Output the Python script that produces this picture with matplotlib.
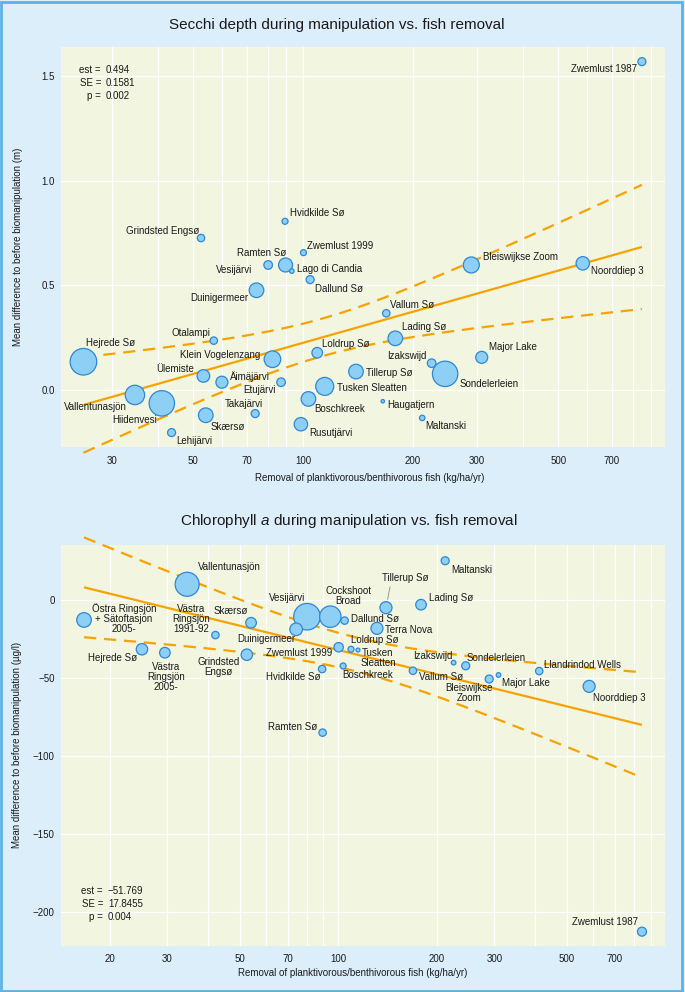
import numpy as np
import matplotlib
matplotlib.use('Agg')
import matplotlib.pyplot as plt
from matplotlib.ticker import FixedLocator, FuncFormatter
from matplotlib.patches import Rectangle

plt.rcParams['font.family'] = ['Liberation Sans', 'DejaVu Sans']
plt.rcParams['mathtext.fontset'] = 'custom'
plt.rcParams['mathtext.it'] = 'Liberation Sans:italic'
plt.rcParams['mathtext.rm'] = 'Liberation Sans'

# ---------------- DATA: Secchi depth ----------------
secchi_lakes = ["Zwemlust 1987", "Hvidkilde Sø", "Grindsted Engsø", "Zwemlust 1999",
                "Ramten Sø", "Vesijärvi", "Lago di Candia", "Dallund Sø", "Duinigermeer",
                "Bleiswijkse Zoom", "Noorddiep 3", "Vallum Sø", "Otalampi", "Hejrede Sø",
                "Klein Vogelenzang", "Ülemiste", "Äimäjärvi", "Etujärvi", "Vallentunasjön",
                "Hiidenvesi", "Takajärvi", "Skærsø", "Lehijärvi", "Loldrup Sø",
                "Tusken Sleatten", "Boschkreek", "Rusutjärvi", "Tillerup Sø", "Lading Sø",
                "Izakswijd", "Sondelerleien", "Major Lake", "Haugatjern", "Maltanski"]
secchi_removal = [848, 89.2, 52.5, 100.2, 89.5, 80.2, 93.1, 104.5, 74.5,
                  289, 584, 169, 56.9, 25.0, 82.4, 53.3, 59.9, 87.0, 34.6,
                  41.0, 73.9, 54.1, 43.6, 109.3, 114.6, 103.4, 98.6, 139.6, 178.9,
                  225, 245, 308.6, 165.3, 212]
secchi_diff = [1.571, 0.807, 0.727, 0.657, 0.598, 0.598, 0.569, 0.528, 0.477,
               0.598, 0.606, 0.367, 0.236, 0.135, 0.147, 0.067, 0.037, 0.037, -0.024,
               -0.064, -0.113, -0.121, -0.204, 0.178, 0.017, -0.043, -0.164, 0.088, 0.247,
               0.128, 0.077, 0.156, -0.054, -0.134]
secchi_weight = [4.0, 3.0, 3.7, 3.0, 7.0, 4.3, 2.3, 4.0, 7.3,
                 8.0, 6.7, 3.7, 3.7, 13.3, 8.3, 6.3, 6.0, 4.3, 9.7,
                 12.7, 4.0, 7.3, 4.0, 5.3, 9.0, 7.3, 6.7, 7.3, 7.3,
                 4.3, 12.7, 6.0, 1.7, 2.7]
secchi_est, secchi_se, secchi_p = 0.494, 0.1581, 0.002
secchi_intercept = -0.7624
secchi_ci_base, secchi_lx_mean = 0.09, 2.05

# ---------------- DATA: Chlorophyll a ----------------
chl_lakes = ["Vallentunasjön", "Östra Ringsjön\n+ Sätoftasjön\n2005-", "Skærsø",
             "Västra\nRingsjön\n1991-92", "Hejrede Sø", "Västra\nRingsjön\n2005-",
             "Grindsted\nEngsø", "Vesijärvi", "Cockshoot\nBroad", "Dallund Sø",
             "Duinigermeer", "Zwemlust 1999", "Hvidkilde Sø", "Boschkreek", "Loldrup Sø",
             "Tusken\nSleatten", "Maltanski", "Tillerup Sø", "Lading Sø", "Terra Nova",
             "Izakswijd", "Sondelerleien", "Llandrindod Wells", "Vallum Sø",
             "Bleiswijkse\nZoom", "Major Lake", "Noorddiep 3", "Ramten Sø", "Zwemlust 1987"]
chl_removal = [34.5, 16.7, 54.1, 42.1, 25.1, 29.5, 52.5, 80.2, 94.5, 104.5,
               74.3, 100.2, 89.2, 103.4, 109.3, 114.8, 212, 139.8, 178.9, 131.2,
               225, 245, 411, 169, 289, 308.6, 584, 89.5, 847]
chl_diff = [10.1, -12.8, -14.6, -22.5, -31.6, -33.8, -35.1, -10.7, -10.7, -13.2,
            -18.8, -30.3, -44.3, -42.3, -31.6, -32.1, 25.2, -4.9, -3.0, -18.2,
            -40.2, -42.2, -45.6, -45.4, -50.7, -48.1, -55.4, -85.1, -212.8]
chl_weight = [12.0, 7.3, 5.3, 3.7, 5.7, 5.3, 5.7, 13.3, 10.7, 3.7,
              6.3, 4.7, 3.7, 3.0, 3.0, 2.0, 4.0, 6.0, 5.3, 6.0,
              2.3, 4.0, 3.7, 3.7, 4.0, 2.3, 6.0, 3.7, 4.5]
chl_est, chl_se, chl_p = -51.769, 17.8455, 0.004
chl_intercept = 71.45
chl_ci_base, chl_lx_mean = 10.9, 2.05
t_crit = 2.04

# ---------------- label placement (pixels: dx right, dy down; ha) ----------------
secchi_label_pos = [(-5, 7, 'right'), (5, -8, 'left'), (-2, -7, 'right'), (4, -7, 'left'),
                    (1, -12, 'right'), (-16, 5, 'right'), (5, -2, 'left'), (5, 9, 'left'),
                    (-8, 8, 'right'), (12, -8, 'left'), (8, 8, 'left'), (4, -8, 'left'),
                    (-3, -8, 'right'), (3, -19, 'left'), (-12, -4, 'right'), (-9, -7, 'right'),
                    (8, -6, 'left'), (-5, 8, 'right'), (-8, 12, 'right'), (-5, 17, 'right'),
                    (8, -10, 'right'), (5, 12, 'left'), (5, 8, 'left'), (5, -9, 'left'),
                    (12, 2, 'left'), (6, 10, 'left'), (8, 9, 'left'), (10, 1, 'left'),
                    (7, -11, 'left'), (-5, -7, 'right'), (14, 10, 'left'), (7, -10, 'left'),
                    (4, 4, 'left'), (3, 8, 'left')]
chl_label_pos = [(11, -17, 'left'), (40, -1, 'center'), (-3, -12, 'right'),
                 (-24, -16, 'center'), (-5, 9, 'right'), (1, 24, 'center'),
                 (-28, 12, 'center'), (-2, -19, 'right'), (-5, -21, 'left'), (6, -2, 'left'),
                 (-1, 10, 'right'), (-6, 6, 'right'), (-2, 8, 'right'), (-1, 9, 'left'),
                 (0, -9, 'left'), (20, 8, 'center'), (6, 9, 'left'), (-4, -30, 'left'),
                 (8, -7, 'left'), (8, 2, 'left'), (-1, -7, 'right'), (1, -8, 'left'),
                 (5, -6, 'left'), (6, 6, 'left'), (-20, 14, 'center'), (3, 8, 'left'),
                 (4, 12, 'left'), (-5, -6, 'right'), (-4, -10, 'right')]

# ---------------- style ----------------
W, H, DPI = 685, 992, 100
PAGE = '#ddeefb'
BORDER = '#5cb2e6'
PANEL = '#f2f5df'
FILL = '#8dcff5'
EDGE = '#2e88d4'
ORANGE = '#f5a302'
TXT = '#1a1a1a'

fig = plt.figure(figsize=(W / DPI, H / DPI), dpi=DPI, facecolor=PAGE)
fig.patches.append(Rectangle((0.002, 0.001), 0.994, 0.997, transform=fig.transFigure,
                             fill=False, edgecolor=BORDER, linewidth=2.0))


def fx(px):
    return px / W


def fy(py):
    return 1 - py / H


def grid_positions(lo, hi):
    out = []
    for d in [10, 100, 1000]:
        for m in range(1, 10):
            v = m * d
            if lo <= v <= hi:
                out.append(v)
    return out


def panel(rect, xs, ys, ws, names, pos, est, icpt, cibase, lxm, se, xlim, ylim,
          xlabels, yticks, yfmt, xpad, leader=None):
    ax = fig.add_axes(rect)
    ax.set_facecolor(PANEL)
    ax.set_xscale('log')
    ax.set_xlim(*xlim)
    ax.set_ylim(*ylim)
    for s in ax.spines.values():
        s.set_visible(False)
    gp = grid_positions(*xlim)
    ax.xaxis.set_major_locator(FixedLocator(gp))
    ax.xaxis.set_minor_locator(FixedLocator([]))
    ax.xaxis.set_major_formatter(FuncFormatter(
        lambda v, p: ('%g' % v) if any(abs(v - l) < 1e-6 for l in xlabels) else ''))
    ax.yaxis.set_major_locator(FixedLocator(yticks))
    ax.yaxis.set_major_formatter(FuncFormatter(yfmt))
    ax.tick_params(axis='x', length=0, pad=xpad, labelsize=7, colors=TXT)
    ax.tick_params(axis='y', length=0, pad=4.6, labelsize=7, colors=TXT)
    ax.grid(True, which='major', color='white', linewidth=1.0)
    ax.set_axisbelow(True)

    lx = np.linspace(np.log10(min(xs)), np.log10(max(xs)), 200)
    xl = 10 ** lx
    fit = icpt + est * lx
    half = np.sqrt(cibase ** 2 + (t_crit * se * (lx - lxm)) ** 2)
    ax.plot(xl, fit, color=ORANGE, lw=1.6, zorder=2, clip_on=False, solid_capstyle='butt')
    for sgn in (1, -1):
        ax.plot(xl, fit + sgn * half, color=ORANGE, lw=1.6, zorder=2, clip_on=False,
                dashes=(5.5, 3.5))

    sizes = [(2 * w * 0.72) ** 2 for w in ws]
    ax.scatter(xs, ys, s=sizes, facecolor=FILL, edgecolor=EDGE, linewidth=0.9, zorder=3,
               clip_on=False)

    for i, (n, x, y) in enumerate(zip(names, xs, ys)):
        dx, dy, ha = pos[i]
        kw = {}
        if leader is not None and n == leader:
            kw['arrowprops'] = dict(arrowstyle='-', color='#8a8a8a', lw=0.6,
                                    shrinkA=1, shrinkB=6, relpos=(0.19, 0.0))
        ax.annotate(n, (x, y), xytext=(dx, -dy), textcoords='offset pixels',
                    ha=ha, va='center', multialignment='center', fontsize=7,
                    color=TXT, linespacing=1.0, zorder=4, **kw)
    return ax


# top panel
ax1 = panel([fx(61), fy(447), fx(665) - fx(61), fy(47) - fy(447)],
            secchi_removal, secchi_diff, secchi_weight, secchi_lakes, secchi_label_pos,
            secchi_est, secchi_intercept, secchi_ci_base, secchi_lx_mean, secchi_se,
            (21.7, 981), (-0.273, 1.641), [30, 50, 70, 100, 200, 300, 500, 700],
            [0.0, 0.5, 1.0, 1.5], lambda v, p: '%.1f' % v, 6.5)

# bottom panel
ax2 = panel([fx(61), fy(946), fx(665) - fx(61), fy(545) - fy(946)],
            chl_removal, chl_diff, chl_weight, chl_lakes, chl_label_pos,
            chl_est, chl_intercept, chl_ci_base, chl_lx_mean, chl_se,
            (14.2, 996), (-222.0, 35.3), [20, 30, 50, 70, 100, 200, 300, 500, 700],
            [-200, -150, -100, -50, 0], lambda v, p: '%d' % v if v >= 0 else '\u2212%d' % -v,
            5.5, leader='Tillerup Sø')

# titles
fig.text(fx(337), fy(25), 'Secchi depth during manipulation vs. fish removal',
         ha='center', va='center', fontsize=11, color=TXT)
fig.text(fx(349), fy(521), 'Chlorophyll $\\mathit{a}$ during manipulation vs. fish removal',
         ha='center', va='center', fontsize=11, color=TXT)

# axis labels
xlab = 'Removal of planktivorous/benthivorous fish (kg/ha/yr)'
fig.text(fx(370), fy(478), xlab, ha='center', va='center', fontsize=7, color=TXT)
fig.text(fx(353), fy(973), xlab, ha='center', va='center', fontsize=7, color=TXT)
fig.text(fx(18), fy(247), 'Mean difference to before biomanipulation (m)', rotation=90,
         ha='center', va='center', fontsize=7, color=TXT)
fig.text(fx(17), fy(745), 'Mean difference to before biomanipulation (\u00b5g/l)', rotation=90,
         ha='center', va='center', fontsize=7, color=TXT)

# stats


def stats(px_r, py0, vals):
    labs = ['est =', 'SE =', 'p =']
    for k, (l, v) in enumerate(zip(labs, vals)):
        yy = py0 + k * 12.8
        fig.text(fx(px_r), fy(yy), l, ha='right', va='center', fontsize=7, color=TXT)
        fig.text(fx(px_r + 5), fy(yy), v, ha='left', va='center', fontsize=7, color=TXT)


stats(101, 70, ['%.3f' % secchi_est, '%.4f' % secchi_se, '%.3f' % secchi_p])
stats(103, 891, ['\u2212%.3f' % abs(chl_est), '%.4f' % chl_se, '%.3f' % chl_p])

fig.savefig('out.png', dpi=DPI, facecolor=PAGE)
